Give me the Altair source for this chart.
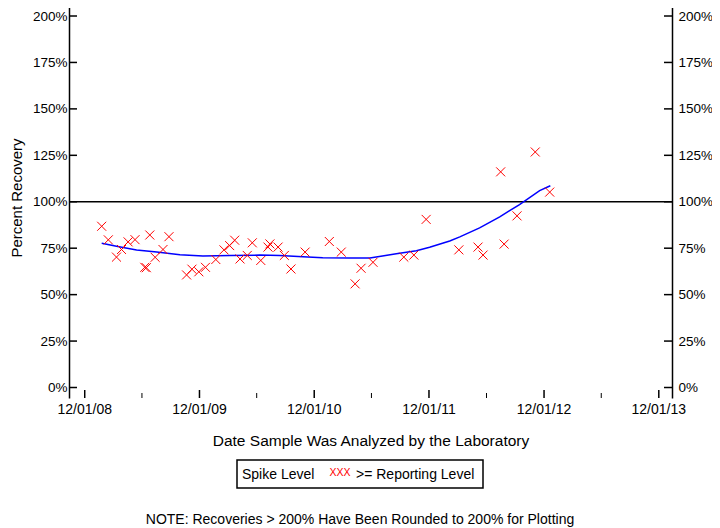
import altair as alt
import pandas as pd

FONT = "Liberation Sans"

# Data
pt_dates = [
    "2009-01-24", "2009-02-14", "2009-03-12", "2009-03-28", "2009-04-18", "2009-05-10",
    "2009-06-10", "2009-06-15", "2009-06-26", "2009-07-13", "2009-08-07", "2009-08-26",
    "2009-10-21", "2009-11-07", "2009-11-29", "2009-12-20", "2010-01-22", "2010-02-17",
    "2010-03-07", "2010-03-23", "2010-04-09", "2010-05-02", "2010-05-18", "2010-06-14",
    "2010-07-07", "2010-07-13", "2010-08-08", "2010-08-28", "2010-09-18", "2010-11-02",
    "2011-01-18", "2011-02-25", "2011-04-10", "2011-04-29", "2011-06-06", "2011-09-12",
    "2011-10-14", "2011-11-22", "2012-03-05", "2012-05-05", "2012-05-21", "2012-07-16",
    "2012-07-27", "2012-09-06", "2012-11-03", "2012-12-19",
]
pt_values = [
    86.8, 79.5, 70.2, 74.3, 78.4, 79.6,
    64.7, 64.5, 82.1, 70.1, 74.3, 81.2,
    60.6, 63.7, 62.3, 64.7, 68.9, 74.1,
    76.4, 79.3, 69.2, 71.1, 77.9, 68.4,
    75.6, 77.3, 75.6, 71.1, 63.8, 72.9,
    78.6, 72.9, 55.8, 64.2, 67.4, 70.2,
    71.3, 90.5, 74.1, 75.6, 71.3, 116.1,
    77.2, 92.4, 126.8, 105.2,
]

fit_dates = [
    "2009-01-24", "2009-03-12", "2009-05-15", "2009-07-18", "2009-09-30", "2009-12-12",
    "2010-03-08", "2010-06-11", "2010-08-13", "2010-10-26", "2010-12-28", "2011-03-24",
    "2011-05-27", "2011-07-06", "2011-08-19", "2011-10-22", "2011-12-03", "2012-02-05",
    "2012-03-08", "2012-05-10", "2012-07-13", "2012-09-14", "2012-11-17", "2012-12-21",
]
fit_values = [
    77.7, 76.1, 74.0, 72.9, 71.5, 70.8,
    71.0, 71.3, 71.1, 70.4, 69.8, 69.7,
    69.7, 70.8, 72.0, 73.6, 75.5, 78.9,
    81.1, 85.9, 91.9, 98.5, 106.0, 108.6,
]

y_ticks = [0, 25, 50, 75, 100, 125, 150, 175, 200]
x_major = ["2008-12-01", "2009-12-01", "2010-12-01", "2011-12-01", "2012-12-01", "2013-12-01"]
x_labels = ["12/01/08", "12/01/09", "12/01/10", "12/01/11", "12/01/12", "12/01/13"]
x_minor = ["2009-06-01", "2010-06-01", "2011-06-01", "2012-06-01", "2013-06-01"]
ref_level = [100]

points = pd.DataFrame({"date": pt_dates, "pct": pt_values})
fit = pd.DataFrame({"date": fit_dates, "pct": fit_values})
yt = pd.DataFrame({"pct": y_ticks})
xmaj = pd.DataFrame({"date": x_major, "lab": x_labels})
xmin = pd.DataFrame({"date": x_minor})
ref = pd.DataFrame({"pct": ref_level})

W, H = 603, 396

xscale = alt.Scale(
    type="utc",
    domain=[alt.DateTime(year=2008, month=10, date=12, utc=True),
            alt.DateTime(year=2014, month=1, date=12, utc=True)],
)
yscale = alt.Scale(domain=[-5.65, 207.54], nice=False, zero=False)

x_axis = alt.Axis(
    title=None, grid=False, ticks=False, tickSize=0, labels=False,
    domainColor="black", domainWidth=1.5,
)
y_left = alt.Axis(
    orient="left", values=y_ticks, labelExpr="datum.value + '%'", title=None,
    grid=False, ticks=False, tickSize=0, labelPadding=2, labelFont=FONT,
    labelFontSize=13.5, labelColor="black", domainColor="black", domainWidth=1.5,
)
y_right = alt.Axis(
    orient="right", values=y_ticks, labelExpr="datum.value + '%'", title=None,
    grid=False, ticks=False, tickSize=0, labelPadding=6, labelFont=FONT,
    labelFontSize=13.5, labelColor="black", domainColor="black", domainWidth=1.5,
)

X_SHAPE = "M-1,-1L1,1M-1,1L1,-1"

pts = alt.Chart(points).mark_point(
    shape=X_SHAPE, size=81, filled=False, color="#ff0000", strokeWidth=1, opacity=1
).encode(
    x=alt.X("date:T", scale=xscale, axis=x_axis),
    y=alt.Y("pct:Q", scale=yscale, axis=y_left),
)

line = alt.Chart(fit).mark_line(color="#0000ff", strokeWidth=1.5).encode(
    x=alt.X("date:T", scale=xscale, axis=None),
    y=alt.Y("pct:Q", scale=yscale, axis=None),
)

refline = alt.Chart(ref).mark_rule(color="black", strokeWidth=1.5).encode(
    y=alt.Y("pct:Q", scale=yscale, axis=None),
)

right_ticks = alt.Chart(yt).mark_rule(color="black", strokeWidth=1.5).encode(
    y=alt.Y("pct:Q", scale=yscale, axis=y_right),
    x=alt.value(W - 8), x2=alt.value(W),
)
left_ticks = alt.Chart(yt).mark_rule(color="black", strokeWidth=1.5).encode(
    y=alt.Y("pct:Q", scale=yscale, axis=None),
    x=alt.value(0), x2=alt.value(8),
)
major_ticks = alt.Chart(xmaj).mark_rule(color="black", strokeWidth=1.5).encode(
    x=alt.X("date:T", scale=xscale, axis=None),
    y=alt.value(H - 8), y2=alt.value(H),
)
minor_ticks = alt.Chart(xmin).mark_rule(color="black", strokeWidth=1).encode(
    x=alt.X("date:T", scale=xscale, axis=None),
    y=alt.value(H - 5), y2=alt.value(H),
)
x_tick_labels = alt.Chart(xmaj).mark_text(
    font=FONT, fontSize=14, align="center", baseline="middle", color="black"
).encode(
    x=alt.X("date:T", scale=xscale, axis=None),
    y=alt.value(H + 12),
    text="lab:N",
)

def label(txt, x, y, size=14, align="center", angle=0, color="black"):
    return alt.Chart(pd.DataFrame({"t": [txt]})).mark_text(
        font=FONT, fontSize=size, align=align, baseline="middle", angle=angle, color=color
    ).encode(text="t:N", x=alt.value(x), y=alt.value(y))

y_title = label("Percent Recovery", -52, 196, size=15, angle=270)
x_title = label("Date Sample Was Analyzed by the Laboratory", 302, 439, size=15.5)

legend_box = alt.Chart(pd.DataFrame({"a": [0]})).mark_rect(
    fill="white", stroke="black", strokeWidth=1.5
).encode(x=alt.value(168), x2=alt.value(414), y=alt.value(458), y2=alt.value(486))
leg1 = label("Spike Level", 173, 473, size=14, align="left")
leg_sym = label("XXX", 271, 471, size=10.5, color="#ff0000")
leg2 = label(">= Reporting Level", 287, 473, size=14, align="left")
note = label("NOTE: Recoveries > 200% Have Been Rounded to 200% for Plotting", 291, 518, size=14)

chart = alt.layer(
    refline, line, pts, right_ticks, left_ticks, major_ticks, minor_ticks, x_tick_labels,
    y_title, x_title, legend_box, leg1, leg_sym, leg2, note,
).resolve_scale(y="independent").properties(
    width=W, height=H,
    autosize="none",
    padding={"left": 61, "top": -6, "right": 40, "bottom": 130},
).configure_view(stroke=None)

chart.save("out.html", embed_options={"renderer": "svg", "actions": False})
